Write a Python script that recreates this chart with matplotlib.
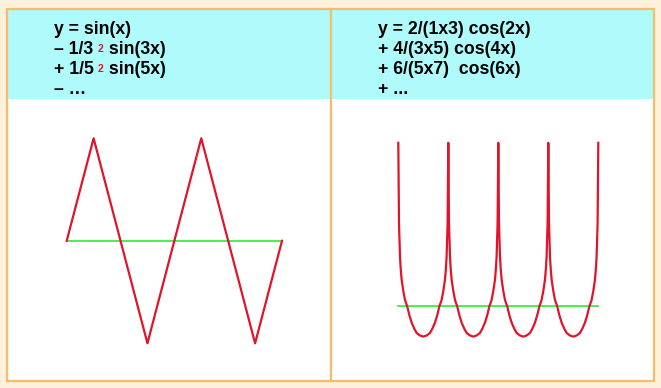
import numpy as np
import matplotlib
matplotlib.use('Agg')
import matplotlib.pyplot as plt
from matplotlib.patches import Rectangle

W, H = 661, 388  # 图片像素大小

# 左图: 三角波的折点 (x 以 π 为单位)
tri_x = [0, 0.5, 1.5, 2.5, 3.5, 4]
tri_y = [0, 1.23, -1.23, 1.23, -1.23, 0]

# 右图: 一个周期 (尖点到尖点) 的读数, x 以 π 为单位
arch_x = [0, 0.014, 0.024, 0.034, 0.05, 0.068, 0.10, 0.134, 0.18, 0.22, 0.268,
          0.32, 0.368, 0.43, 0.5, 0.57, 0.632, 0.68, 0.732, 0.78, 0.82, 0.866,
          0.90, 0.932, 0.95, 0.966, 0.976, 0.986, 1.0]
arch_y = [2.72, 1.38, 1.10, 0.82, 0.60, 0.43, 0.25, 0.10, -0.01, -0.15, -0.28,
          -0.38, -0.45, -0.49, -0.51, -0.49, -0.45, -0.38, -0.28, -0.15, -0.01,
          0.10, 0.25, 0.43, 0.60, 0.82, 1.10, 1.38, 2.72]
n_periods = 4

# 标题文字
left_lines = ["y = sin(x)", "– 1/3", "+ 1/5", "– …"]
left_tail = [None, " sin(3x)", " sin(5x)", None]
right_lines = ["y = 2/(1x3) cos(2x)", "+ 4/(3x5) cos(4x)", "+ 6/(5x7)  cos(6x)", "+ ..."]

bg = '#FDF1DC'
edge = '#F7BB6B'
cyan = '#AFFAFA'
red = '#E0142A'
green = '#3EEE3E'

fig = plt.figure(figsize=(W / 100, H / 100), dpi=100, facecolor=bg)


def px_rect(x0, y0, x1, y1, **kw):
    fig.add_artist(Rectangle((x0 / W, 1 - y1 / H), (x1 - x0) / W, (y1 - y0) / H,
                             transform=fig.transFigure, zorder=-5, **kw))


# 面板: 青色标题区 + 白色绘图区
for xa, xb in [(7, 331), (331, 654)]:
    px_rect(xa, 99, xb, 381, facecolor='white', edgecolor='none')
    px_rect(xa, 9, xb, 99, facecolor=cyan, edgecolor='none')
    px_rect(xa, 9, xb, 381, facecolor='none', edgecolor=edge, lw=1.6)

font = dict(family='Liberation Sans', fontweight='bold', fontsize=12.7, va='baseline')


def px_text(x, y, s, **kw):
    opts = dict(font)
    opts.update(kw)
    fig.text(x / W, 1 - y / H, s, **opts)


for i, s in enumerate(left_lines):
    yb = 33.5 + 20 * i
    px_text(53.5, yb, s)
    if left_tail[i]:
        px_text(97.3, yb - 1.5, "2", color=red, fontsize=7.5)
        px_text(104.5, yb, left_tail[i])

for i, s in enumerate(right_lines):
    px_text(378.3, 33.5 + 20 * i, s)

# 左图
axl = fig.add_axes([66.7 / W, 1 - 343.3 / H, 215.3 / W, 205 / H])
axl.plot([tri_x[0], tri_x[-1]], [0, 0], color=green, lw=1.3, clip_on=False)
axl.plot(tri_x, tri_y, color=red, lw=1.6, clip_on=False)
axl.set_xlim(0, 4)
axl.set_ylim(-1.23, 1.23)
axl.axis('off')

# 右图
rx = np.concatenate([k + np.array(arch_x) for k in range(n_periods)])
ry = np.concatenate([np.array(arch_y)] * n_periods)
axr = fig.add_axes([398.3 / W, 1 - 336.6 / H, 200 / W, 193.8 / H])
axr.plot([0, n_periods], [0, 0], color=green, lw=1.3, clip_on=False)
axr.plot(rx, ry, color=red, lw=1.6, clip_on=False)
axr.set_xlim(0, n_periods)
axr.set_ylim(-0.51, 2.72)
axr.axis('off')

fig.savefig('out.png', dpi=100, facecolor=bg)
